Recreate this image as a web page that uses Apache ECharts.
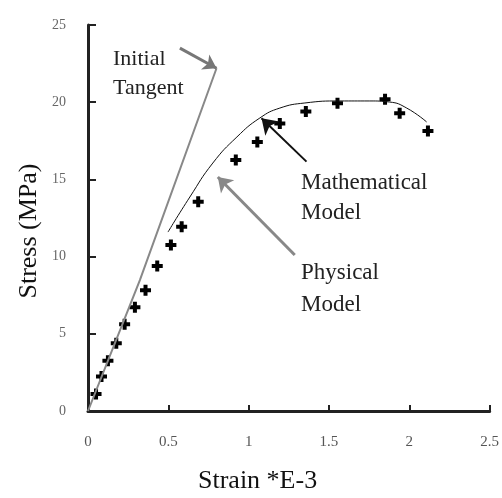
<!DOCTYPE html>
<html>
<head>
<meta charset="utf-8">
<script src="https://cdn.jsdelivr.net/npm/echarts@6/dist/echarts.min.js"></script>
<style>
  html, body { margin: 0; padding: 0; background: #fff; }
  #main { width: 502px; height: 498px; }
</style>
</head>
<body>
<div id="main"></div>
<script>
// physical model (test points)
var testStrain = [0.05, 0.084, 0.124, 0.176, 0.228, 0.292, 0.358, 0.431, 0.516, 0.583, 0.686, 0.92, 1.054, 1.194, 1.356, 1.553, 1.849, 1.94, 2.116];
var testStress = [1.1, 2.23, 3.25, 4.38, 5.62, 6.72, 7.82, 9.39, 10.75, 11.94, 13.56, 16.26, 17.42, 18.62, 19.39, 19.93, 20.19, 19.28, 18.13];

// mathematical model curve
var modelStrain = [0.498, 0.634, 0.777, 0.927, 1.07, 1.194, 1.35, 1.567, 1.754, 1.878, 1.984, 2.108];
var modelStress = [11.59, 13.86, 16.06, 17.75, 18.98, 19.62, 19.95, 20.08, 20.08, 20.01, 19.62, 18.72];

// initial tangent
var tangentStrain = [0, 0.323, 0.80];
var tangentStress = [0, 8.48, 22.2];

// annotation arrows: [tailX, tailY, headX, headY]
var arrowTangent = [0.572, 23.5, 0.80, 22.2];
var arrowMath = [1.36, 16.15, 1.08, 18.96];
var arrowPhys = [1.287, 10.1, 0.808, 15.16];

var xTicks = [0, 0.5, 1, 1.5, 2, 2.5];
var yTicks = [0, 5, 10, 15, 20, 25];

function pairs(xs, ys) {
  var out = [];
  for (var i = 0; i < xs.length; i++) out.push([xs[i], ys[i]]);
  return out;
}

function arrow(a, color, width, head) {
  return [
    { coord: [a[0], a[1]], symbol: 'none', lineStyle: { color: color, width: width, type: 'solid' } },
    { coord: [a[2], a[3]], symbol: 'arrow', symbolSize: head }
  ];
}

var serif = '"Liberation Serif", "DejaVu Serif", serif';
var chart = echarts.init(document.getElementById('main'));

var option = {
  animation: false,
  backgroundColor: '#fff',
  grid: { left: 88, right: 12, top: 25, bottom: 87 },
  xAxis: {
    type: 'value',
    min: xTicks[0], max: xTicks[xTicks.length - 1], interval: 0.5,
    axisLine: { show: true, lineStyle: { color: '#222', width: 3 } },
    axisTick: { show: true, inside: true, length: 6, lineStyle: { color: '#222', width: 2 } },
    axisLabel: { margin: 24, color: '#555', fontSize: 15, fontFamily: serif },
    splitLine: { show: false }
  },
  yAxis: {
    type: 'value',
    min: yTicks[0], max: yTicks[yTicks.length - 1], interval: 5,
    axisLine: { show: true, lineStyle: { color: '#222', width: 3 } },
    axisTick: { show: true, inside: true, length: 8, lineStyle: { color: '#222', width: 2 } },
    axisLabel: { margin: 22, color: '#666', fontSize: 14, fontFamily: serif },
    splitLine: { show: false }
  },
  series: [
    {
      name: 'Initial Tangent',
      type: 'line',
      data: pairs(tangentStrain, tangentStress),
      symbol: 'none',
      lineStyle: { color: '#888', width: 2 },
      silent: true
    },
    {
      name: 'Mathematical Model',
      type: 'line',
      data: pairs(modelStrain, modelStress),
      smooth: true,
      symbol: 'none',
      lineStyle: { color: '#111', width: 1 },
      silent: true
    },
    {
      name: 'Physical Model',
      type: 'scatter',
      data: pairs(testStrain, testStress),
      symbol: 'path://M3.5,0H7.5V3.5H11V7.5H7.5V11H3.5V7.5H0V3.5H3.5Z',
      symbolSize: 11,
      itemStyle: { color: '#000', opacity: 1 },
      silent: true
    },
    {
      type: 'line',
      data: [],
      silent: true,
      markLine: {
        silent: true,
        animation: false,
        label: { show: false },
        emphasis: { disabled: true },
        data: [
          arrow(arrowTangent, '#777', 3, 13),
          arrow(arrowMath, '#111', 2, 15),
          arrow(arrowPhys, '#888', 3, 14)
        ]
      }
    }
  ],
  graphic: [
    { type: 'text', left: 113, top: 48, style: { text: 'Initial', font: '22px ' + serif, fill: '#222' } },
    { type: 'text', left: 113, top: 77, style: { text: 'Tangent', font: '22px ' + serif, fill: '#222' } },
    { type: 'text', left: 301, top: 171, style: { text: 'Mathematical', font: '23px ' + serif, fill: '#222' } },
    { type: 'text', left: 301, top: 201, style: { text: 'Model', font: '23px ' + serif, fill: '#222' } },
    { type: 'text', left: 301, top: 261, style: { text: 'Physical', font: '23px ' + serif, fill: '#222' } },
    { type: 'text', left: 301, top: 293, style: { text: 'Model', font: '23px ' + serif, fill: '#222' } },
    { type: 'text', left: 198, top: 468, style: { text: 'Strain *E-3', font: '26px ' + serif, fill: '#111' } },
    {
      type: 'text', x: 29, y: 231, rotation: Math.PI / 2,
      style: { text: 'Stress (MPa)', font: '26px ' + serif, fill: '#111', align: 'center', verticalAlign: 'middle' }
    }
  ]
};

chart.setOption(option);
</script>
</body>
</html>
